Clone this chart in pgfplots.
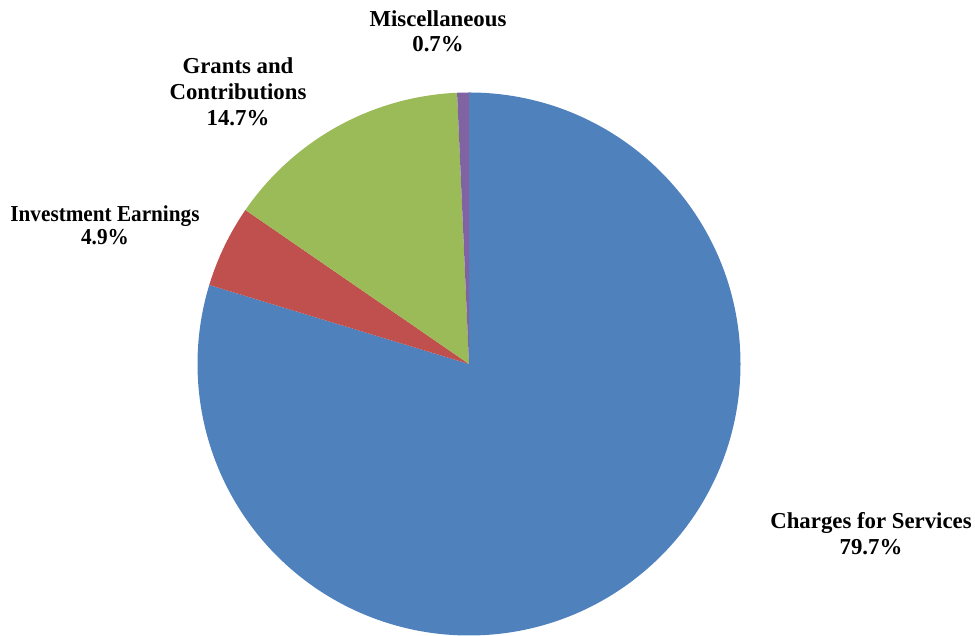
\documentclass[border=0pt]{standalone}
\usepackage{pgfplots}
\pgfplotsset{compat=1.18}
\usepackage{graphicx}
\usepackage{fontspec}
\setmainfont{Liberation Serif}
\definecolor{cblue}{HTML}{4F81BD}
\definecolor{cred}{HTML}{C0504D}
\definecolor{cgreen}{HTML}{9BBB59}
\definecolor{cpurple}{HTML}{8064A2}
% shares in percent
\def\vCharges{79.7}
\def\vInvest{4.9}
\def\vGrants{14.7}
\def\vMisc{0.7}
\pgfmathsetmacro{\aA}{90}
\pgfmathsetmacro{\aB}{\aA-3.6*\vCharges}
\pgfmathsetmacro{\aC}{\aB-3.6*\vInvest}
\pgfmathsetmacro{\aD}{\aC-3.6*\vGrants}
\pgfmathsetmacro{\aE}{\aD-3.6*\vMisc}
\begin{document}
\begin{tikzpicture}
\begin{axis}[width=487.5pt,height=317.5pt,scale only axis,
  xmin=0,xmax=975,ymin=0,ymax=635,hide axis,clip=false]
\path (rel axis cs:0,0) rectangle (rel axis cs:1,1);
\fill[cblue] (axis cs:469,271) -- ++(\aA:135.75pt) arc[start angle=\aA,end angle=\aB,radius=135.75pt] -- cycle;
\fill[cred] (axis cs:469,271) -- ++(\aB:135.75pt) arc[start angle=\aB,end angle=\aC,radius=135.75pt] -- cycle;
\fill[cgreen] (axis cs:469,271) -- ++(\aC:135.75pt) arc[start angle=\aC,end angle=\aD,radius=135.75pt] -- cycle;
\fill[cpurple] (axis cs:469,271) -- ++(\aD:135.75pt) arc[start angle=\aD,end angle=\aE,radius=135.75pt] -- cycle;
\tikzset{lbl/.style={anchor=base,inner sep=0pt,font=\bfseries\fontsize{11.4}{13}\selectfont}}
\node[lbl] at (axis cs:438,608) {Miscellaneous};
\node[lbl] at (axis cs:438,583) {0.7\%};
\node[lbl] at (axis cs:238,561) {Grants and};
\node[lbl] at (axis cs:238,535) {Contributions};
\node[lbl] at (axis cs:238,509) {14.7\%};
\node[lbl] at (axis cs:105,413) {\scalebox{0.93}[1]{Investment Earnings}};
\node[lbl] at (axis cs:105,390) {\scalebox{0.93}[1]{4.9\%}};
\node[lbl] at (axis cs:871,106) {Charges for Services};
\node[lbl] at (axis cs:871,80) {79.7\%};
\end{axis}
\end{tikzpicture}
\end{document}
